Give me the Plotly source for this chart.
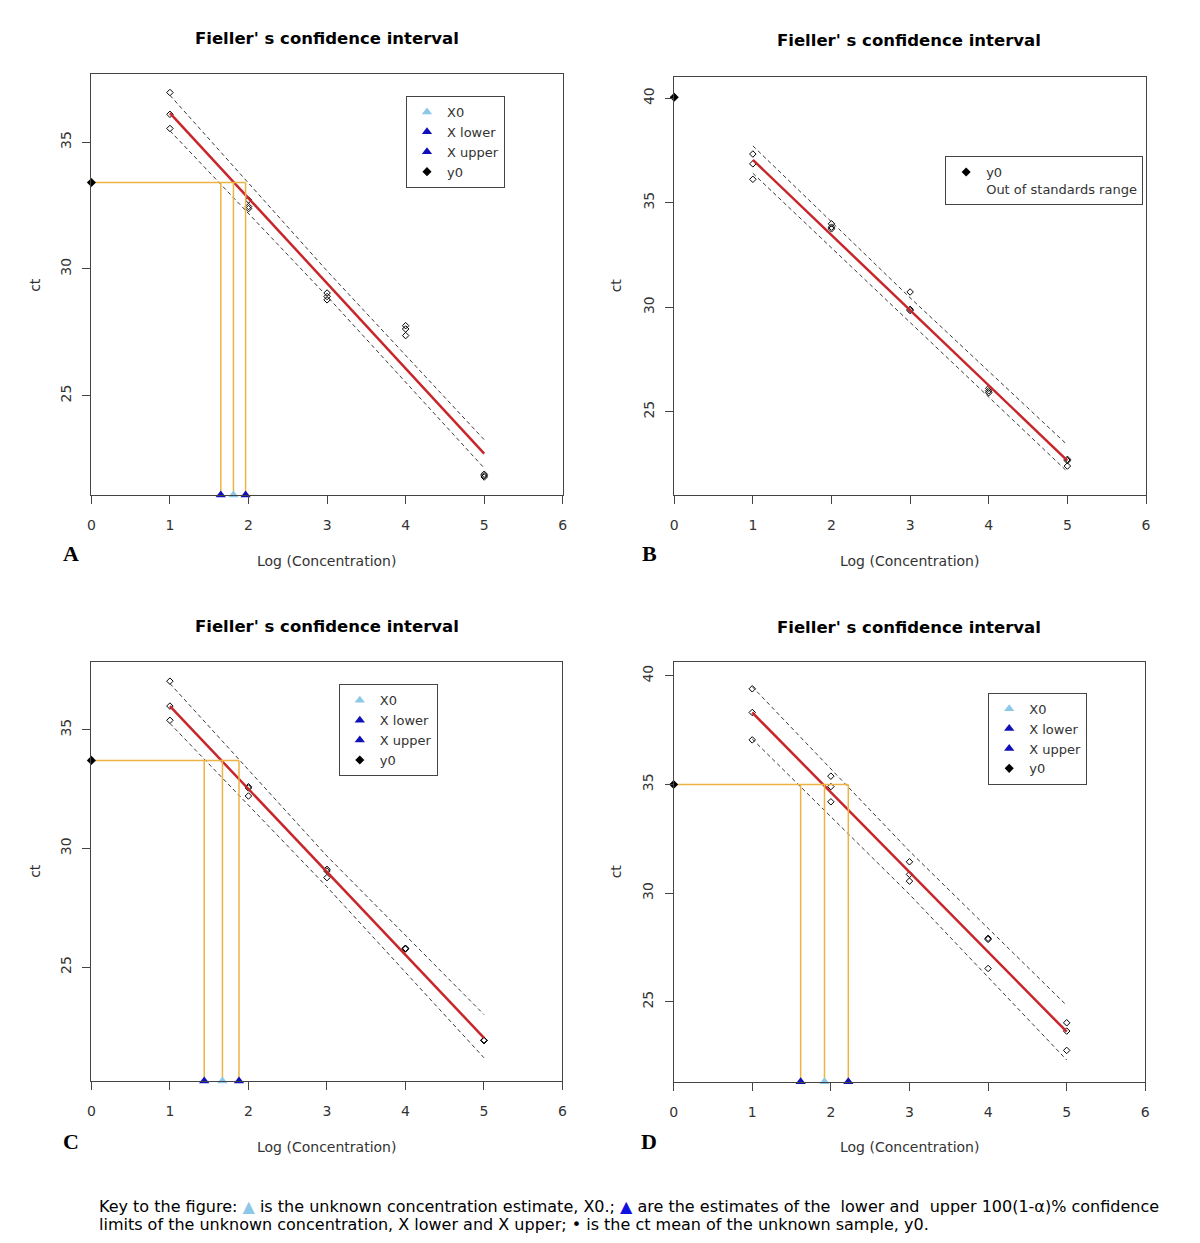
import plotly.graph_objects as go

# ---------------- data ----------------
titles = ["Fieller' s confidence interval"] * 4
panel_letters = ["A", "B", "C", "D"]

std_x = [1, 1, 1, 2, 2, 2, 3, 3, 3, 4, 4, 4, 5, 5, 5]

std_y_A = [36.96, 36.10, 35.54, 32.72, 32.46, 32.38, 29.05, 28.91, 28.78, 27.76, 27.63, 27.37, 21.90, 21.84, 21.79]
std_y_B = [37.33, 36.86, 36.12, 33.99, 33.83, 33.75, 30.73, 29.90, 29.84, 26.12, 26.00, 25.91, 22.72, 22.66, 22.40]
std_y_C = [37.05, 36.00, 35.40, 32.60, 32.55, 32.21, 29.12, 29.05, 28.77, 25.79, 25.79, 25.76, 21.92, 21.92, 21.90]
std_y_D = [39.40, 38.31, 37.05, 35.38, 34.90, 34.20, 31.44, 30.86, 30.55, 27.92, 27.87, 26.53, 24.03, 23.65, 22.76]

fit_x = [1, 5]
fit_A = [36.15, 22.71]
fit_B = [37.05, 22.66]
fit_C = [36.00, 22.02]
fit_D = [38.31, 23.62]

band_x = [1, 3, 5]
upper_A = [36.85, 29.92, 23.26]
lower_A = [35.45, 28.92, 22.14]
upper_B = [37.72, 30.45, 23.41]
lower_B = [36.41, 29.27, 22.13]
upper_C = [36.95, 29.68, 23.00]
lower_C = [35.27, 28.38, 21.18]
upper_D = [39.50, 31.93, 24.83]
lower_D = [37.09, 29.94, 22.32]

y0_vals = [33.41, 40.05, 33.71, 35.00]
x0_vals = [1.808, None, 1.669, 1.919]
xlower_vals = [1.647, None, 1.437, 1.616]
xupper_vals = [1.963, None, 1.880, 2.222]

x_ticks = [0, 1, 2, 3, 4, 5, 6]
y_ticks_AC = [25, 30, 35]
y_ticks_BD = [25, 30, 35, 40]

caption_lines = [
    "Key to the figure: <span style='color:#8CC8E8'>▲</span> is the unknown concentration "
    "estimate, X0.; <span style='color:#1010E0'>▲</span> are the estimates of the  lower and "
    " upper 100(1-α)% confidence",
    "limits of the unknown concentration, X lower and X upper; • is the ct mean of the "
    "unknown sample, y0.",
]

# ---------------- layout geometry ----------------
OFF = 8                      # default page margin around the plot div
W, H = 1200 - 2 * OFF, 1243 - 2 * OFF


def fx(px):
    return (px - OFF) / W


def fy(py):
    return 1 - (py - OFF) / H


panels = [
    dict(dom_x=(88, 563), dom_y=(74, 495), yr=(21.08, 37.69), yt=y_ticks_AC,
         sy=std_y_A, fit=fit_A, up=upper_A, lo=lower_A, leg=(405, 96),
         title=(325, 38), ct=(31, 285), xl=(325, 561), letter=(67, 553)),
    dict(dom_x=(675.3, 1150.7), dom_y=(76.7, 495.3), yr=(21.0, 41.03), yt=y_ticks_BD,
         sy=std_y_B, fit=fit_B, up=upper_B, lo=lower_B, leg=(948.3, 156),
         title=(912, 41), ct=(617, 285), xl=(912, 561), letter=(650, 553)),
    dict(dom_x=(88, 562.7), dom_y=(661.7, 1081), yr=(20.2, 37.87), yt=y_ticks_AC,
         sy=std_y_C, fit=fit_C, up=upper_C, lo=lower_C, leg=(337.3, 684.3),
         title=(325, 626), ct=(31, 871), xl=(325, 1147), letter=(67, 1141)),
    dict(dom_x=(674.7, 1150), dom_y=(662.3, 1081.7), yr=(21.32, 40.62), yt=y_ticks_BD,
         sy=std_y_D, fit=fit_D, up=upper_D, lo=lower_D, leg=(991.7, 692.7),
         title=(912, 627), ct=(617, 871), xl=(912, 1147), letter=(650, 1141)),
]

RED = "#C8262A"
ORANGE = "#EDB345"
DASH = "#3a3a3a"
LIGHTBLUE = "#8CC8E8"
BLUE = "#1010B8"
TXT = "#333333"
FONT = "DejaVu Sans, Arial, sans-serif"

fig = go.Figure()
layout = dict(width=W, height=H, margin=dict(l=0, r=0, t=0, b=0),
              paper_bgcolor="white", plot_bgcolor="white", showlegend=True,
              annotations=[])

for i, p in enumerate(panels):
    sfx = "" if i == 0 else str(i + 1)
    xa, ya = "x" + sfx, "y" + sfx
    legname = "legend" + sfx
    ybot = p["yr"][0]

    # standards
    fig.add_trace(go.Scatter(x=std_x, y=p["sy"], mode="markers", xaxis=xa, yaxis=ya,
                             marker=dict(symbol="diamond-open", size=5, color="black",
                                         line=dict(width=1, color="black")),
                             showlegend=False, hoverinfo="skip"))
    # confidence bands
    for b in (p["up"], p["lo"]):
        fig.add_trace(go.Scatter(x=band_x, y=b, mode="lines", xaxis=xa, yaxis=ya,
                                 line=dict(color=DASH, width=1, dash="4px,3px"),
                                 showlegend=False, hoverinfo="skip"))
    # fitted line
    fig.add_trace(go.Scatter(x=fit_x, y=p["fit"], mode="lines", xaxis=xa, yaxis=ya,
                             line=dict(color=RED, width=2.5),
                             showlegend=False, hoverinfo="skip"))

    y0 = y0_vals[i]
    if x0_vals[i] is not None:
        xl, x0, xu = xlower_vals[i], x0_vals[i], xupper_vals[i]
        ox = [0, xu, None, xl, xl, None, x0, x0, None, xu, xu]
        oy = [y0, y0, None, y0, ybot, None, y0, ybot, None, y0, ybot]
        fig.add_trace(go.Scatter(x=ox, y=oy, mode="lines", xaxis=xa, yaxis=ya,
                                 line=dict(color=ORANGE, width=1.5),
                                 showlegend=False, hoverinfo="skip"))
        for nm, xv, col in (("X0", x0, LIGHTBLUE), ("X lower", xl, BLUE), ("X upper", xu, BLUE)):
            fig.add_trace(go.Scatter(x=[xv], y=[ybot], mode="markers", xaxis=xa, yaxis=ya,
                                     name=nm, legend=legname, cliponaxis=False,
                                     marker=dict(symbol="triangle-up", size=9, color=col)))
        fig.add_trace(go.Scatter(x=[0], y=[y0], mode="markers", xaxis=xa, yaxis=ya,
                                 name="y0", legend=legname, cliponaxis=False,
                                 marker=dict(symbol="diamond", size=7, color="black")))
    else:
        fig.add_trace(go.Scatter(x=[0], y=[y0], mode="markers", xaxis=xa, yaxis=ya,
                                 name="y0<br>Out of standards range", legend=legname,
                                 cliponaxis=False,
                                 marker=dict(symbol="diamond", size=7, color="black")))

    axcommon = dict(showgrid=False, zeroline=False, showline=True, mirror=True,
                    linecolor="#444444", linewidth=1, ticks="outside", ticklen=8,
                    tickcolor="#444444", tickfont=dict(family=FONT, size=14, color=TXT))
    layout["xaxis" + sfx] = dict(domain=[fx(p["dom_x"][0]), fx(p["dom_x"][1])],
                                 anchor=ya, range=[0, 6], tickvals=x_ticks,
                                 ticklabelstandoff=9, **axcommon)
    layout["yaxis" + sfx] = dict(domain=[fy(p["dom_y"][1]), fy(p["dom_y"][0])],
                                 anchor=xa, range=list(p["yr"]), tickvals=p["yt"],
                                 tickangle=-90, ticklabelstandoff=6, **axcommon)
    layout[legname] = dict(x=fx(p["leg"][0]), y=fy(p["leg"][1]), xanchor="left",
                           yanchor="top", bgcolor="white", bordercolor="#444444",
                           borderwidth=1, font=dict(family=FONT, size=13, color=TXT),
                           valign="top", traceorder="normal")

    ann = layout["annotations"]
    ann.append(dict(text="<b>" + titles[i] + "</b>", x=fx(p["title"][0]), y=fy(p["title"][1]),
                    xref="paper", yref="paper", showarrow=False, xanchor="center",
                    yanchor="middle", font=dict(family=FONT, size=16.5, color="black")))
    ann.append(dict(text="ct", x=fx(p["ct"][0]), y=fy(p["ct"][1]), xref="paper",
                    yref="paper", showarrow=False, textangle=-90, xanchor="center",
                    yanchor="middle", font=dict(family=FONT, size=14, color=TXT)))
    ann.append(dict(text="Log (Concentration)", x=fx(p["xl"][0]), y=fy(p["xl"][1]),
                    xref="paper", yref="paper", showarrow=False, xanchor="center",
                    yanchor="middle", font=dict(family=FONT, size=14, color=TXT)))
    ann.append(dict(text="<b>" + panel_letters[i] + "</b>", x=fx(p["letter"][0]),
                    y=fy(p["letter"][1]), xref="paper", yref="paper", showarrow=False,
                    xanchor="center", yanchor="middle",
                    font=dict(family="Liberation Serif, Times New Roman, serif", size=22,
                              color="black")))

for line, ypx in zip(caption_lines, (1206, 1224)):
    layout["annotations"].append(dict(text=line, x=fx(94), y=fy(ypx), xref="paper",
                                      yref="paper", showarrow=False, xanchor="left",
                                      yanchor="middle", align="left",
                                      font=dict(family=FONT, size=16, color="black")))

fig.update_layout(**layout)
fig.write_html("out.html")
